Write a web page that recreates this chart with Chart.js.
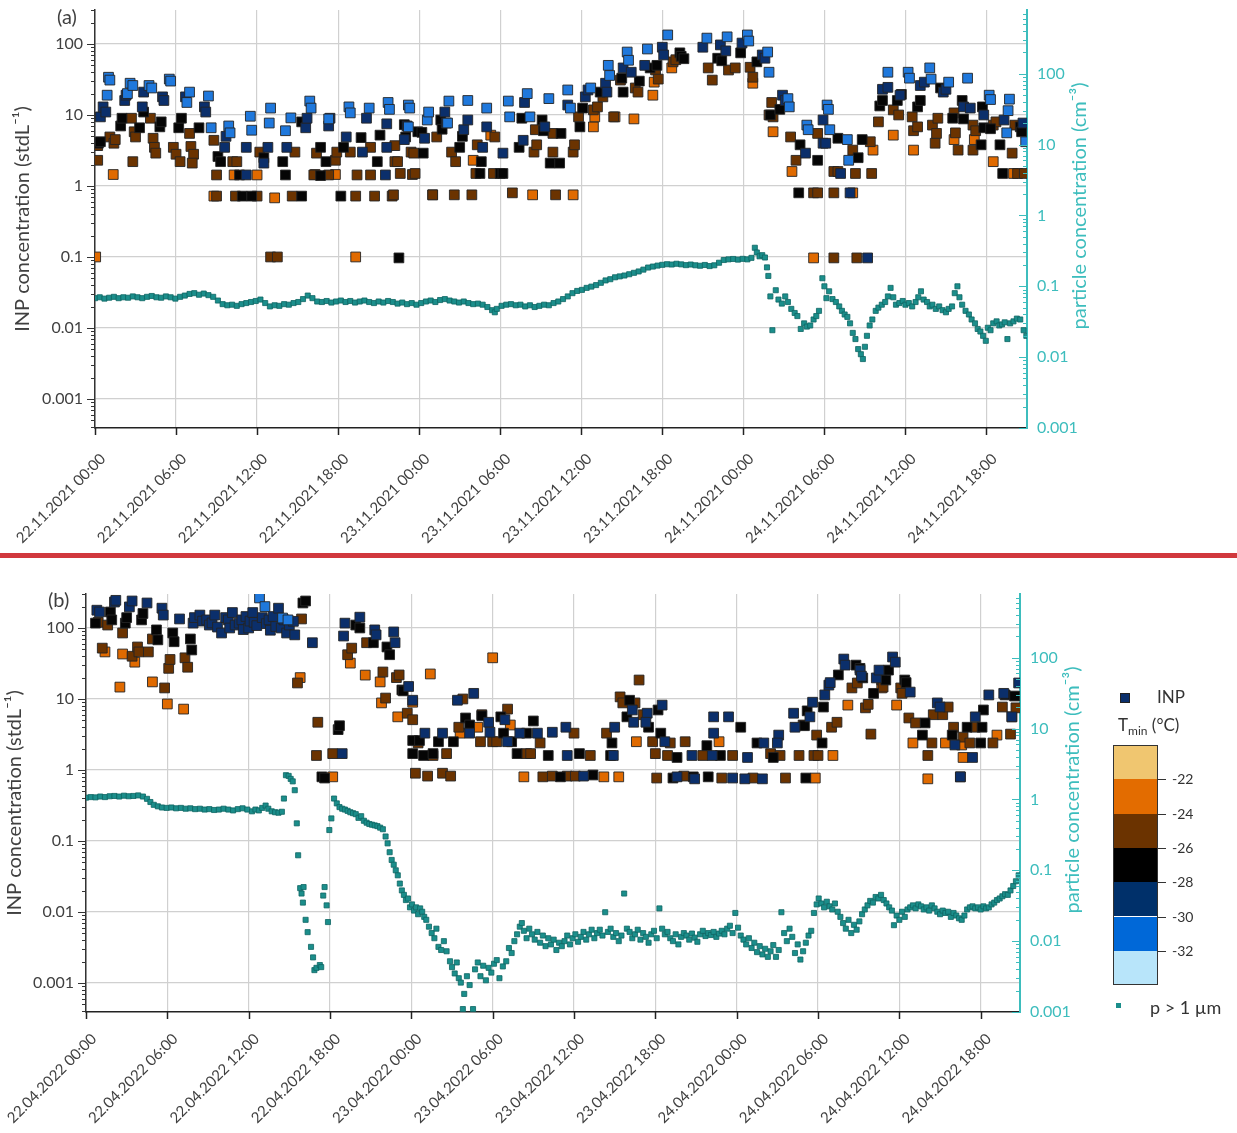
<!DOCTYPE html>
<html>
<head>
<meta charset="utf-8">
<script src="https://cdn.jsdelivr.net/npm/chart.js@4.4.1/dist/chart.umd.min.js"></script>
<style>
  body { margin: 0; background: #fff; width: 1237px; height: 1133px; position: relative; overflow: hidden; font-family: Lato, "Open Sans", sans-serif; }
  canvas { position: absolute; left: 0; }
  #chartA { top: 0; }
  #chartB { top: 558px; }
  #sep { position: absolute; left: 0; top: 553px; width: 1237px; height: 5px; background: #d1383d; }
  .plabel { position: absolute; font-size: 20px; color: #404040; }
  .leg { position: absolute; color: #333; font-size: 17px; line-height: 1; }
  .cb { position: absolute; left: 1113px; width: 45px; }
  .cbtick { position: absolute; left: 1158px; width: 8px; height: 1px; background: #333; }
  .cblab { position: absolute; left: 1172px; font-size: 14px; color: #333; line-height: 1; }
</style>
</head>
<body>
<canvas id="chartA" width="1237" height="553"></canvas>
<div id="sep"></div>
<canvas id="chartB" width="1237" height="575"></canvas>
<div class="plabel" style="left:57px;top:4px">(a)</div>
<div class="plabel" style="left:48px;top:587px">(b)</div>

<div class="leg" style="left:1120px;top:693px;width:8px;height:8px;background:#0b2f6b;border:1px solid #222"></div>
<div class="leg" style="left:1157px;top:688px">INP</div>
<div class="leg" style="left:1118px;top:716px">T<sub style="font-size:12px">min</sub> (°C)</div>
<div id="colorbar"></div>
<div class="leg" style="left:1116px;top:1003px;width:5px;height:5px;background:#1b8e8b"></div>
<div class="leg" style="left:1150px;top:998px;font-size:18px">p &gt; 1 µm</div>

<script>
// ---- axes ----
const tickHours = [0, 6, 12, 18, 24, 30, 36, 42, 48, 54, 60, 66];
const tickLabelsA = ['22.11.2021 00:00', '22.11.2021 06:00', '22.11.2021 12:00', '22.11.2021 18:00',
  '23.11.2021 00:00', '23.11.2021 06:00', '23.11.2021 12:00', '23.11.2021 18:00',
  '24.11.2021 00:00', '24.11.2021 06:00', '24.11.2021 12:00', '24.11.2021 18:00'];
const tickLabelsB = ['22.04.2022 00:00', '22.04.2022 06:00', '22.04.2022 12:00', '22.04.2022 18:00',
  '23.04.2022 00:00', '23.04.2022 06:00', '23.04.2022 12:00', '23.04.2022 18:00',
  '24.04.2022 00:00', '24.04.2022 06:00', '24.04.2022 12:00', '24.04.2022 18:00'];
const logTicks = [0.001, 0.01, 0.1, 1, 10, 100];
const logLabels = ['0.001', '0.01', '0.1', '1', '10', '100'];

// colour bar of the legend (Tmin classes, top to bottom)
const tminColors = ['#f0c670', '#e36c00', '#6b3300', '#000000', '#00306a', '#0068d8', '#b8e5fa'];
const tminLabels = ['-22', '-24', '-26', '-28', '-30', '-32'];

// ---- panel (a) INP, [hours since 22.11.2021 00:00, stdL-1] ----
const aBlue = [[0.9,19],[1.0,34],[1.1,31],[2.4,20],[2.6,28],[2.8,26],[4.0,26],[4.2,24],[5.5,32],[5.6,30],[6.8,15],[7.0,21],[8.4,18.5],[8.6,6.6],[9.9,7],[10.0,5.6],[11.5,9.6],[11.6,6.1],[12.9,7.7],[13.0,12.5],[14.1,6],[14.5,9.1],[15.9,15.7],[16.0,12.5],[17.3,8.8],[18.8,13],[18.9,10.7],[20.3,12.5],[21.7,15],[21.8,12],[23.2,13.8],[23.3,12.5],[23.2,6.8],[24.6,8.5],[24.7,11],[26.1,7.7],[26.2,15.7],[27.6,16],[29.0,12.5],[30.6,15.7],[30.7,9.4],[32.0,20],[32.2,9.4],[33.6,17],[35.0,22.5],[35.2,12.5],[36.7,24],[38.0,50],[38.1,36],[39.4,77],[39.5,59],[40.9,85],[42.4,134],[45.3,121],[46.8,126],[48.3,134],[48.4,110],[49.8,77],[49.9,40],[51.3,17],[51.4,13],[52.7,7.2],[52.8,6.2],[54.2,13.8],[54.3,12],[54.4,6.2],[55.7,4.5],[55.8,2.3],[58.7,40],[60.2,40],[60.3,33],[61.8,46],[61.9,32],[63.2,29],[64.6,33],[66.2,19],[66.3,16.5],[67.5,5.6],[67.6,11.5],[67.7,16.7],[68.9,4.2]];
const aNavy = [[0.4,9.4],[0.6,13],[0.8,11],[2.2,16],[2.3,19],[3.5,13],[3.6,21],[5.0,18],[5.1,16],[6.7,18],[8.1,13],[8.2,11],[9.6,3.5],[9.7,5],[11.2,3.5],[11.2,1.43],[12.5,2.1],[12.8,3.5],[14.2,3.5],[15.6,6.6],[15.7,9],[17.3,7],[17.4,9],[18.6,4.9],[19.8,3],[20.1,9],[21.5,1.43],[21.6,7.5],[21.6,3.5],[22.9,4.5],[23.1,7],[24.4,4.7],[25.9,11],[26.0,7.7],[27.3,6.2],[27.6,8.5],[28.7,3.5],[29.0,6.8],[30.2,2.9],[31.7,4.4],[31.8,15],[33.3,6.8],[35.0,13.8],[36.3,18],[36.5,22.5],[37.8,28],[37.9,21],[39.1,46],[39.7,40],[40.7,50],[42.0,90],[42.1,70],[45.0,90],[46.3,97],[46.7,80],[47.9,103],[49.4,70],[49.6,63],[50.9,19],[51.1,16],[52.6,2.9],[53.9,8.5],[53.9,4],[54.1,4],[55.2,1.5],[55.9,0.8],[57.2,0.097],[58.3,23],[58.7,24.5],[59.6,19],[61.1,26],[61.4,29],[62.8,21],[63.0,23],[64.3,13],[64.8,12.5],[65.8,10],[67.3,8.5],[68.7,7.7]];
const aBlack = [[0.25,4.0],[0.4,4.2],[1.9,7],[2.0,9],[3.3,6.6],[3.6,11],[4.8,6.8],[4.9,8],[6.2,6.6],[6.4,9],[7.7,6.6],[9.1,2.6],[9.3,2.2],[10.7,1.43],[10.9,0.72],[11.6,0.72],[12.5,2.5],[13.9,2.2],[14.1,1.43],[15.3,8],[15.3,0.72],[16.7,3.5],[16.7,1.4],[17.1,2.2],[18.2,0.72],[18.4,3.5],[19.7,4.8],[20.9,2.2],[21.1,5.2],[22.5,0.097],[22.9,7.3],[23.0,4.9],[23.9,5.8],[24.2,5.7],[24.3,2.9],[25.6,8.5],[25.7,6.3],[27.0,3.5],[27.2,5],[28.5,1.5],[28.6,2.2],[30.0,1.5],[30.2,1.5],[31.4,3.5],[31.6,9],[33.1,8.5],[33.2,6],[33.7,2.1],[34.4,2.1],[34.5,5.5],[35.9,6.8],[36.1,12.5],[37.4,21],[39.0,33],[39.1,21],[40.3,30],[41.1,46],[41.6,50],[43.3,75],[43.4,67],[43.6,62],[46.1,63],[46.4,58],[47.8,75],[49.0,56],[50.0,10],[50.7,12],[52.2,3.8],[52.1,0.8],[53.5,2.3],[55.0,4.7],[56.5,2.5],[56.8,4.5],[58.1,13.4],[58.3,16],[59.4,16],[59.7,19.5],[60.9,13],[61.1,16],[62.6,24],[63.5,9],[64.2,16],[64.3,8.8],[65.6,3.8],[65.7,13],[65.8,6.6],[66.3,6.4],[67.0,3.8],[67.2,1.5],[68.5,6.8],[68.6,5.8]];
const aBrown = [[0.2,2.3],[0.2,3.7],[1.1,4.9],[1.4,4],[1.5,4.5],[2.7,9],[2.8,2.2],[2.9,5.8],[3.0,4.9],[4.1,9],[4.3,4.7],[4.4,3.5],[4.5,2.9],[5.8,3.5],[6.0,2.8],[6.3,2.2],[7.0,5.5],[7.1,3.6],[7.3,2.8],[7.2,2.1],[8.8,4.4],[9.0,1.43],[9.0,0.72],[10.2,2.2],[10.5,2.2],[10.4,0.72],[12.0,0.72],[12.2,3],[13.0,0.1],[13.5,0.1],[14.6,0.72],[14.8,3],[16.2,1.43],[16.4,2.9],[17.3,1.43],[17.8,2.3],[17.9,3],[18.9,3],[19.3,0.72],[19.4,1.43],[20.4,3.5],[20.4,1.43],[20.7,0.72],[22.0,0.72],[22.1,0.75],[22.2,2.2],[22.2,3.7],[22.4,2.2],[22.6,1.5],[23.4,3],[23.5,1.45],[23.6,2.9],[23.7,1.5],[25.0,0.75],[25.3,4.9],[26.4,3],[26.6,0.75],[26.7,2.2],[27.9,0.75],[28.2,1.5],[28.3,3.8],[29.5,1.5],[29.6,4.9],[30.9,0.8],[32.5,3],[32.6,6.2],[32.7,3.8],[33.9,3],[33.9,5.5],[34.1,0.75],[35.4,3],[35.5,3.8],[35.8,9.4],[36.9,11.8],[37.2,13],[37.6,18],[38.4,9.4],[38.9,31],[40.0,24],[40.2,21],[41.5,43],[41.7,32],[42.8,56],[43.0,60],[45.4,46],[45.7,31],[46.9,43],[47.4,46],[48.5,47],[48.7,34],[49.9,10],[50.1,15],[50.2,9.4],[51.5,4.9],[51.9,2.3],[53.2,0.8],[53.5,0.8],[53.5,5.5],[54.7,0.097],[54.7,1.6],[54.7,0.8],[55.0,1.6],[56.1,3.2],[56.3,1.5],[56.4,0.097],[57.4,4.2],[57.5,1.5],[58.0,8],[59.1,11.8],[59.5,10],[60.5,9.4],[60.6,6],[60.9,6.8],[62.0,7.2],[62.2,4],[62.3,5.5],[62.4,9],[63.6,10.7],[63.7,5.6],[63.9,3.2],[65.0,7.2],[65.0,3.2],[65.2,6],[66.5,7.2],[66.7,8],[67.9,2.9],[68.1,7.2],[68.3,1.5],[68.8,1.5]];
const aOrange = [[0.05,0.1],[1.35,1.45],[8.8,0.72],[10.3,1.43],[12.0,1.43],[13.3,0.68],[16.3,1.45],[17.8,1.45],[19.3,0.1],[25.0,0.75],[28.0,2.3],[29.3,5.2],[32.4,0.75],[35.4,0.75],[36.9,6.8],[37.0,9.4],[38.5,9.4],[39.9,8.8],[41.3,19],[41.4,29],[42.7,46],[48.7,28],[50.2,5.8],[51.6,1.6],[53.2,0.097],[56.1,0.8],[57.6,3.2],[59.1,5.2],[60.6,3.2],[63.6,4.5],[65.1,4.5],[66.5,2.2],[68.0,1.5]];
// panel (a) particles > 1 um, [hours, cm-3]
const aParticles = [[0.0,0.068],[0.35,0.070],[0.7,0.067],[1.05,0.069],[1.4,0.071],[1.75,0.068],[2.1,0.070],[2.45,0.069],[2.8,0.072],[3.15,0.070],[3.5,0.068],[3.85,0.071],[4.2,0.073],[4.55,0.070],[4.9,0.069],[5.25,0.072],[5.6,0.070],[5.95,0.067],[6.3,0.071],[6.65,0.074],[7.0,0.078],[7.35,0.080],[7.7,0.076],[8.05,0.079],[8.4,0.075],[8.75,0.071],[9.1,0.063],[9.45,0.056],[9.8,0.054],[10.15,0.055],[10.5,0.053],[10.85,0.056],[11.2,0.058],[11.55,0.060],[11.9,0.062],[12.25,0.065],[12.6,0.058],[12.95,0.052],[13.3,0.054],[13.65,0.053],[14.0,0.056],[14.35,0.055],[14.7,0.058],[15.05,0.060],[15.4,0.066],[15.75,0.074],[16.1,0.068],[16.45,0.061],[16.8,0.060],[17.15,0.062],[17.5,0.059],[17.85,0.061],[18.2,0.063],[18.55,0.060],[18.9,0.062],[19.25,0.059],[19.6,0.061],[19.95,0.063],[20.3,0.060],[20.65,0.058],[21.0,0.061],[21.35,0.059],[21.7,0.062],[22.05,0.060],[22.4,0.057],[22.75,0.059],[23.1,0.056],[23.45,0.058],[23.8,0.055],[24.15,0.058],[24.5,0.061],[24.85,0.063],[25.2,0.060],[25.55,0.064],[25.9,0.066],[26.25,0.063],[26.6,0.061],[26.95,0.059],[27.3,0.061],[27.65,0.058],[28.0,0.056],[28.35,0.057],[28.7,0.055],[29.05,0.051],[29.4,0.046],[29.6,0.043],[29.75,0.048],[30.1,0.053],[30.45,0.055],[30.8,0.056],[31.15,0.054],[31.5,0.055],[31.85,0.052],[32.2,0.054],[32.55,0.051],[32.9,0.053],[33.25,0.055],[33.6,0.054],[33.95,0.058],[34.3,0.061],[34.65,0.066],[35.0,0.072],[35.35,0.080],[35.7,0.086],[36.05,0.089],[36.4,0.095],[36.75,0.099],[37.1,0.104],[37.45,0.112],[37.8,0.121],[38.15,0.126],[38.5,0.134],[38.85,0.138],[39.2,0.142],[39.55,0.148],[39.9,0.155],[40.25,0.162],[40.6,0.172],[40.95,0.184],[41.3,0.190],[41.65,0.196],[42.0,0.201],[42.35,0.205],[42.7,0.203],[43.05,0.208],[43.4,0.204],[43.75,0.199],[44.1,0.203],[44.45,0.198],[44.8,0.195],[45.15,0.200],[45.5,0.193],[45.85,0.198],[46.2,0.215],[46.55,0.235],[46.9,0.240],[47.25,0.243],[47.6,0.238],[47.95,0.244],[48.3,0.240],[48.6,0.252],[48.85,0.350],[49.0,0.300],[49.2,0.265],[49.4,0.275],[49.6,0.255],[49.75,0.185],[49.85,0.140],[50.0,0.072],[50.15,0.024],[50.4,0.088],[50.6,0.065],[50.85,0.057],[51.1,0.072],[51.3,0.060],[51.55,0.048],[51.8,0.042],[52.0,0.038],[52.25,0.025],[52.5,0.030],[52.7,0.027],[52.95,0.028],[53.2,0.034],[53.4,0.038],[53.6,0.045],[53.85,0.130],[54.0,0.100],[54.15,0.068],[54.35,0.085],[54.6,0.066],[54.85,0.060],[55.1,0.052],[55.3,0.045],[55.5,0.040],[55.7,0.037],[55.9,0.030],[56.1,0.022],[56.3,0.018],[56.5,0.013],[56.7,0.011],[56.85,0.0094],[57.0,0.014],[57.15,0.020],[57.35,0.028],[57.55,0.034],[57.8,0.045],[58.0,0.050],[58.25,0.055],[58.5,0.060],[58.7,0.072],[58.9,0.095],[59.1,0.070],[59.3,0.055],[59.55,0.058],[59.8,0.062],[60.0,0.055],[60.25,0.058],[60.5,0.052],[60.75,0.060],[60.95,0.070],[61.15,0.085],[61.35,0.065],[61.6,0.060],[61.8,0.052],[62.0,0.055],[62.25,0.048],[62.5,0.052],[62.75,0.046],[63.0,0.043],[63.2,0.048],[63.45,0.052],[63.65,0.080],[63.85,0.100],[64.0,0.070],[64.2,0.055],[64.45,0.045],[64.7,0.040],[64.9,0.034],[65.15,0.030],[65.35,0.025],[65.55,0.023],[65.75,0.020],[65.95,0.017],[66.1,0.026],[66.3,0.024],[66.5,0.030],[66.75,0.032],[66.95,0.028],[67.15,0.029],[67.35,0.031],[67.55,0.018],[67.75,0.030],[68.0,0.032],[68.25,0.035],[68.5,0.034],[68.75,0.024],[68.95,0.020]];

// ---- panel (b) INP, [hours since 22.04.2022 00:00, stdL-1] ----
const bBlue = [[12.8,265],[13.2,200],[14.5,138],[14.9,130]];
const bNavy = [[0.8,178],[1.0,168],[2.1,232],[2.2,245],[3.2,198],[3.4,240],[4.5,225],[5.6,190],[5.7,152],[6.9,134],[7.9,117],[8.0,140],[8.4,152],[8.6,125],[8.9,130],[9.1,110],[9.3,118],[9.5,152],[9.7,103],[10.0,85],[10.3,140],[10.5,130],[10.6,100],[10.8,165],[11.0,110],[11.3,117],[11.5,130],[11.6,95],[11.8,145],[12.0,100],[12.1,125],[12.3,165],[12.4,120],[12.6,108],[13.0,140],[13.3,115],[13.5,130],[13.6,93],[13.8,145],[14.0,105],[14.2,190],[14.4,100],[14.6,130],[14.8,85],[15.0,110],[15.3,124],[15.4,80],[16.7,62],[19.0,77],[19.1,117],[20.2,142],[21.3,94],[21.4,80],[22.7,88],[22.8,62],[23.8,15],[24.1,9.6],[18.9,1.7],[25.0,3.3],[26.3,3.3],[27.4,9.6],[28.3,3.3],[28.6,12],[29.7,4.7],[29.8,3.4],[30.9,5.1],[31.1,2.5],[32.0,3.3],[33.3,3.3],[34.4,3.4],[35.4,4],[35.5,1.6],[36.7,0.82],[38.9,1.6],[39.0,4],[40.3,7],[40.4,4.7],[41.4,6.3],[41.3,4.7],[42.5,8.2],[42.7,2.5],[43.6,0.8],[44.7,1.6],[44.9,0.75],[46.2,1.6],[46.3,5.6],[46.3,3.3],[47.4,5.6],[47.7,0.77],[48.6,0.75],[48.8,1.5],[49.9,0.75],[50.0,2.4],[51.1,3.1],[51.0,2.4],[52.2,6.3],[52.3,4],[53.4,5.6],[53.6,9],[54.5,11.4],[54.8,15.7],[54.9,17],[55.9,36.5],[56.0,30],[57.1,25.5],[57.2,21],[58.3,19.8],[58.5,25.5],[59.5,39],[59.7,33],[60.8,12.5],[62.8,8.8],[63.0,7.7],[64.1,2.25],[64.5,0.8],[65.4,1.5],[65.6,5.6],[66.6,11.4],[67.7,12],[68.3,5.6],[68.8,16.8]];
const bBlack = [[0.7,117],[1.8,168],[1.9,130],[2.9,117],[3.0,140],[4.1,130],[4.2,160],[5.2,94],[5.3,68],[6.4,85],[6.5,64],[7.7,70],[7.8,49],[16.0,225],[16.2,240],[17.4,0.8],[17.6,0.77],[18.6,3.7],[18.7,4.2],[19.9,110],[20.2,100],[21.2,62],[22.2,54],[22.4,42],[23.3,13.4],[23.4,13],[24.1,2.6],[24.1,1.7],[24.6,2.6],[24.9,1.6],[25.6,1.7],[26.0,2.5],[27.1,2.5],[28.0,5.4],[28.3,4.3],[29.2,5.8],[30.6,5.6],[30.8,3.3],[31.4,2.5],[31.8,1.7],[32.5,3.3],[33.0,4.9],[34.1,1.6],[35.0,0.8],[36.4,1.7],[37.4,0.85],[38.7,1.6],[38.8,2.4],[39.9,5.6],[40.1,9.6],[41.5,4],[42.2,7],[42.4,3.3],[43.3,0.77],[43.6,1.5],[44.8,0.8],[45.8,2.2],[45.9,0.8],[46.8,1.6],[48.3,4],[49.5,2.4],[50.7,1.5],[53.1,0.77],[53.2,6.8],[53.0,4.2],[54.3,2.4],[54.4,7.7],[55.5,21.8],[56.8,30],[57.1,27],[57.3,19.8],[58.1,12],[59.0,18.5],[59.2,25.5],[60.4,18.5],[60.5,17],[61.7,3.1],[61.9,4.6],[63.9,3.1],[65.0,4],[66.0,2.4],[66.1,4],[66.2,7],[67.8,11.4],[68.5,11]];
const bBrown = [[0.9,120],[1.2,52],[1.6,110],[2.7,85],[3.4,40],[3.8,54],[3.9,46],[4.6,46],[4.9,70],[5.8,14.3],[6.1,27],[6.2,36],[7.3,38],[7.5,28],[15.6,16.8],[15.9,134],[17.0,1.6],[17.1,4.7],[18.2,1.7],[19.3,42],[19.6,52],[20.7,62],[21.9,24],[22.1,10.3],[22.9,20],[23.1,21.8],[23.7,6.3],[24.1,5.1],[24.3,0.9],[24.5,2.4],[25.2,0.82],[25.6,1.6],[26.3,0.9],[26.6,1.7],[26.9,0.82],[27.5,4],[27.8,10],[29.1,2.5],[29.2,6],[30.0,2.5],[30.3,2.5],[31.1,7.2],[32.5,1.7],[32.8,1.7],[33.5,2.4],[33.7,0.8],[34.4,0.82],[35.5,0.82],[36.0,3.3],[36.1,0.82],[37.2,1.6],[38.4,3.3],[39.4,10.7],[39.6,8.8],[40.5,8.8],[40.8,18.5],[41.1,6],[41.8,2.5],[42.0,1.7],[42.1,0.77],[42.9,1.6],[43.1,2.4],[44.1,0.82],[44.2,2.5],[45.5,1.6],[46.9,0.77],[47.7,1.6],[49.2,0.77],[50.5,1.7],[51.2,1.6],[51.6,0.77],[52.6,1.6],[52.9,4.3],[53.7,1.6],[53.9,3.1],[54.0,1.6],[55.0,4],[55.4,4.7],[56.5,14.3],[56.9,16.8],[57.5,7.5],[57.7,8.4],[57.9,3.2],[58.7,18.5],[58.8,14.7],[60.1,14.3],[60.2,12],[60.7,5.4],[61.2,4.6],[62.1,1.6],[62.4,2.4],[62.5,6],[63.2,6],[63.6,7.7],[64.0,4],[64.5,0.8],[64.7,2.9],[65.2,2.4],[65.6,4],[66.9,2.4],[67.6,7.7],[68.2,3.2],[68.6,7.5]];
const bOrange = [[1.4,46],[2.5,14.7],[2.7,43],[3.6,33],[4.9,17.4],[6.0,8.5],[7.2,7.2],[15.8,20],[18.2,0.8],[19.5,32],[20.6,21.7],[21.7,17.4],[21.8,8.8],[23.0,5.6],[24.1,9],[25.4,22.5],[27.6,3.3],[28.9,4.0],[30.0,38],[31.3,4.3],[32.3,0.8],[38.2,0.8],[39.3,0.8],[40.6,2.5],[46.7,2.5],[53.8,0.77],[55.1,1.6],[56.2,8.2],[58.7,14.3],[59.8,8.2],[61.0,2.4],[62.1,0.75],[63.4,2.4],[64.6,2.25],[64.7,1.5],[67.2,3.1],[68.3,5.6]];
// panel (b) particles > 1 um, [hours, cm-3]
const bParticles = [[0.0,1.06],[0.35,1.08],[0.7,1.07],[1.05,1.10],[1.4,1.08],[1.75,1.11],[2.1,1.12],[2.45,1.10],[2.8,1.13],[3.15,1.11],[3.5,1.12],[3.85,1.14],[4.2,1.10],[4.5,1.02],[4.75,0.92],[5.0,0.84],[5.3,0.80],[5.6,0.77],[5.95,0.76],[6.3,0.77],[6.65,0.75],[7.0,0.76],[7.35,0.74],[7.7,0.75],[8.05,0.73],[8.4,0.74],[8.75,0.72],[9.1,0.73],[9.45,0.71],[9.8,0.72],[10.15,0.74],[10.5,0.72],[10.85,0.70],[11.2,0.73],[11.55,0.75],[11.9,0.72],[12.25,0.68],[12.5,0.72],[12.75,0.70],[13.0,0.76],[13.25,0.82],[13.45,0.74],[13.7,0.68],[13.95,0.66],[14.2,0.65],[14.45,0.67],[14.6,1.03],[14.75,2.2],[14.95,2.15],[15.1,1.95],[15.25,1.80],[15.4,1.35],[15.55,0.46],[15.65,0.163],[15.8,0.056],[15.9,0.047],[16.0,0.035],[16.05,0.058],[16.2,0.020],[16.35,0.0134],[16.6,0.0083],[16.75,0.0059],[16.85,0.0039],[17.0,0.0042],[17.25,0.0046],[17.35,0.0043],[17.5,0.044],[17.6,0.058],[17.75,0.032],[17.85,0.0186],[17.95,0.37],[18.1,0.54],[18.3,1.03],[18.5,0.88],[18.7,0.78],[18.9,0.74],[19.1,0.72],[19.3,0.69],[19.5,0.66],[19.7,0.64],[19.9,0.62],[20.1,0.55],[20.3,0.58],[20.5,0.50],[20.7,0.47],[20.9,0.45],[21.1,0.44],[21.3,0.43],[21.5,0.42],[21.7,0.40],[21.9,0.38],[22.1,0.30],[22.25,0.24],[22.4,0.18],[22.55,0.14],[22.7,0.12],[22.85,0.10],[23.0,0.085],[23.15,0.065],[23.3,0.052],[23.45,0.045],[23.6,0.038],[23.75,0.040],[23.9,0.030],[24.05,0.033],[24.2,0.027],[24.35,0.030],[24.5,0.024],[24.65,0.029],[24.8,0.026],[24.95,0.022],[25.1,0.020],[25.3,0.016],[25.5,0.013],[25.7,0.011],[25.85,0.015],[26.0,0.0083],[26.2,0.0075],[26.4,0.010],[26.6,0.0072],[26.85,0.0052],[27.0,0.0043],[27.2,0.0035],[27.35,0.0050],[27.5,0.0030],[27.65,0.0026],[27.8,0.0011],[27.9,0.0018],[28.1,0.0032],[28.3,0.0024],[28.55,0.0011],[28.7,0.0040],[28.9,0.0050],[29.1,0.0032],[29.3,0.0045],[29.5,0.0028],[29.7,0.0042],[29.9,0.0036],[30.1,0.0048],[30.3,0.0054],[30.5,0.0030],[30.75,0.0044],[31.0,0.0052],[31.2,0.0080],[31.4,0.0068],[31.6,0.0100],[31.8,0.0125],[32.0,0.0160],[32.15,0.0180],[32.3,0.0140],[32.5,0.0110],[32.7,0.0150],[32.9,0.0125],[33.1,0.0105],[33.3,0.0135],[33.5,0.0095],[33.7,0.0120],[33.9,0.0085],[34.1,0.0110],[34.3,0.0090],[34.5,0.0105],[34.7,0.0075],[34.9,0.0095],[35.1,0.0085],[35.3,0.0100],[35.5,0.0120],[35.7,0.0090],[35.9,0.0110],[36.1,0.0125],[36.3,0.0098],[36.5,0.0115],[36.7,0.0135],[36.9,0.0105],[37.1,0.0125],[37.3,0.0145],[37.5,0.0110],[37.7,0.0130],[37.9,0.0145],[38.1,0.0120],[38.3,0.0256],[38.5,0.0135],[38.7,0.0150],[38.9,0.0115],[39.1,0.0130],[39.3,0.0100],[39.5,0.0120],[39.7,0.0470],[39.9,0.0150],[40.1,0.0135],[40.3,0.0110],[40.5,0.0125],[40.7,0.0145],[40.9,0.0105],[41.1,0.0130],[41.3,0.0115],[41.5,0.0095],[41.7,0.0125],[41.9,0.0140],[42.1,0.0110],[42.3,0.0290],[42.5,0.0150],[42.7,0.0125],[42.9,0.0135],[43.1,0.0110],[43.3,0.0100],[43.5,0.0125],[43.7,0.0090],[43.9,0.0115],[44.1,0.0130],[44.3,0.0120],[44.5,0.0105],[44.7,0.0128],[44.9,0.0112],[45.1,0.0098],[45.3,0.0125],[45.5,0.0140],[45.7,0.0118],[45.9,0.0130],[46.1,0.0122],[46.3,0.0135],[46.5,0.0115],[46.7,0.0128],[46.9,0.0140],[47.1,0.0125],[47.3,0.0150],[47.5,0.0165],[47.7,0.0130],[47.9,0.0250],[48.1,0.0155],[48.3,0.0120],[48.5,0.0105],[48.7,0.0090],[48.9,0.0110],[49.1,0.0080],[49.3,0.0095],[49.5,0.0070],[49.7,0.0085],[49.9,0.0065],[50.1,0.0078],[50.3,0.0060],[50.5,0.0072],[50.7,0.0088],[50.9,0.0060],[51.1,0.0075],[51.3,0.0256],[51.5,0.0130],[51.7,0.0100],[51.9,0.0150],[52.1,0.0115],[52.3,0.0068],[52.5,0.0090],[52.7,0.0055],[52.9,0.0072],[53.1,0.0095],[53.3,0.0120],[53.5,0.0140],[53.7,0.0250],[53.9,0.0330],[54.05,0.0400],[54.25,0.0340],[54.45,0.0300],[54.65,0.0360],[54.85,0.0310],[55.05,0.0280],[55.25,0.0340],[55.45,0.0260],[55.65,0.0220],[55.85,0.0180],[56.05,0.0150],[56.25,0.0200],[56.45,0.0130],[56.65,0.0170],[56.85,0.0145],[57.05,0.0190],[57.25,0.0240],[57.45,0.0280],[57.65,0.0320],[57.85,0.0370],[58.05,0.0350],[58.25,0.0420],[58.45,0.0400],[58.65,0.0450],[58.85,0.0380],[59.05,0.0340],[59.25,0.0300],[59.45,0.0270],[59.6,0.0168],[59.8,0.0230],[60.0,0.0200],[60.2,0.0260],[60.4,0.0220],[60.6,0.0280],[60.8,0.0300],[61.0,0.0320],[61.2,0.0290],[61.4,0.0330],[61.6,0.0310],[61.8,0.0280],[62.0,0.0300],[62.2,0.0270],[62.4,0.0320],[62.6,0.0290],[62.8,0.0260],[63.0,0.0240],[63.2,0.0270],[63.4,0.0250],[63.6,0.0260],[63.8,0.0220],[64.0,0.0250],[64.2,0.0230],[64.4,0.0210],[64.6,0.0200],[64.8,0.0230],[65.0,0.0280],[65.2,0.0300],[65.4,0.0310],[65.6,0.0290],[65.8,0.0300],[66.0,0.0280],[66.2,0.0310],[66.4,0.0290],[66.6,0.0300],[66.8,0.0330],[67.0,0.0350],[67.2,0.0380],[67.4,0.0400],[67.6,0.0430],[67.8,0.0460],[68.0,0.0450],[68.2,0.0520],[68.4,0.0600],[68.6,0.0700],[68.8,0.0850]];

const TEAL_AXIS = '#3dbdbd';
const GREY_TEXT = '#404040';

// log-axis minor ticks, x tick marks and the right-hand title
const axisDecor = {
  id: 'axisDecor',
  afterDraw(chart, args, opts) {
    const ctx = chart.ctx;
    const area = chart.chartArea;
    const y = chart.scales.y, y2 = chart.scales.y2, x = chart.scales.x;
    ctx.save();
    ctx.lineWidth = 1;
    for (let e = -4; e <= 3; e++) {
      for (let m = 1; m <= 9; m++) {
        const v = m * Math.pow(10, e);
        const len = m === 1 ? 8 : 4;
        if (v >= y.min && v <= y.max) {
          const py = Math.round(y.getPixelForValue(v)) + 0.5;
          ctx.strokeStyle = '#333';
          ctx.beginPath(); ctx.moveTo(area.left - len, py); ctx.lineTo(area.left, py); ctx.stroke();
        }
        if (v >= y2.min && v <= y2.max) {
          const py = Math.round(y2.getPixelForValue(v)) + 0.5;
          ctx.strokeStyle = TEAL_AXIS;
          ctx.beginPath(); ctx.moveTo(area.right - len, py); ctx.lineTo(area.right, py); ctx.stroke();
        }
      }
    }
    ctx.strokeStyle = '#222';
    ctx.lineWidth = 1.5;
    tickHours.forEach(h => {
      const px = Math.round(x.getPixelForValue(h)) + 0.5;
      ctx.beginPath(); ctx.moveTo(px, area.bottom); ctx.lineTo(px, area.bottom + 7); ctx.stroke();
    });
    // right axis title reads bottom to top
    ctx.translate(opts.titleX, opts.titleY);
    ctx.rotate(-Math.PI / 2);
    ctx.fillStyle = TEAL_AXIS;
    ctx.font = '20px Lato';
    ctx.textAlign = 'center';
    ctx.textBaseline = 'middle';
    ctx.fillText('particle concentration (cm⁻³)', 0, 0);
    ctx.restore();
  }
};

function inpSet(data, color) {
  return {
    data: data.map(p => ({ x: p[0], y: p[1] })),
    yAxisID: 'y',
    pointStyle: 'rect',
    pointRadius: 6.9,
    backgroundColor: color,
    borderColor: 'rgba(35,35,35,0.9)',
    borderWidth: 1
  };
}

function particleSet(data) {
  return {
    data: data.map(p => ({ x: p[0], y: p[1] })),
    yAxisID: 'y2',
    pointStyle: 'rect',
    pointRadius: 3.6,
    backgroundColor: '#1b8e8b',
    borderColor: '#0e6663',
    borderWidth: 0.8
  };
}

// no extra edge padding from the scales, the layout padding decides the plot box
function noPad(s) {
  s.paddingTop = 0; s.paddingBottom = 0; s.paddingLeft = 0; s.paddingRight = 0;
}

function makeChart(canvasId, sets, labels, cfg) {
  const ctx = document.getElementById(canvasId).getContext('2d');
  return new Chart(ctx, {
    type: 'scatter',
    data: {
      datasets: [
        inpSet(sets.blue, '#1f78dc'),
        inpSet(sets.navy, '#0b2f6b'),
        inpSet(sets.black, '#050505'),
        inpSet(sets.brown, '#6b3300'),
        inpSet(sets.orange, '#e06a00'),
        particleSet(sets.particles)
      ]
    },
    options: {
      responsive: false,
      animation: false,
      events: [],
      layout: { padding: { top: cfg.top, left: 0, right: 0, bottom: 0 } },
      scales: {
        x: {
          type: 'linear',
          position: 'bottom',
          min: 0,
          max: cfg.xMax,
          afterBuildTicks: s => { s.ticks = tickHours.map(v => ({ value: v })); },
          afterFit: s => { s.height = cfg.xHeight; noPad(s); },
          ticks: {
            autoSkip: false,
            minRotation: 45,
            maxRotation: 45,
            padding: cfg.labelPad,
            labelOffset: 8,
            color: GREY_TEXT,
            font: { family: 'Lato', size: 15 },
            callback: v => labels[tickHours.indexOf(v)] || ''
          },
          grid: { color: '#d0d0d0', lineWidth: 1.2, drawTicks: false },
          border: { display: true, color: '#222', width: 1.5 }
        },
        y: {
          type: 'logarithmic',
          position: 'left',
          min: 0.00039,
          max: 301,
          bounds: 'data',
          afterBuildTicks: s => { s.ticks = logTicks.map(v => ({ value: v })); },
          afterFit: s => { s.width = cfg.leftWidth; noPad(s); },
          ticks: {
            autoSkip: false,
            padding: 12,
            color: GREY_TEXT,
            font: { family: 'Lato', size: 16 },
            callback: v => logLabels[logTicks.indexOf(v)] || ''
          },
          title: {
            display: true,
            text: 'INP concentration (stdL⁻¹)',
            color: GREY_TEXT,
            font: { family: 'Lato', size: 20 },
            padding: { top: cfg.leftTitlePad, bottom: 0 }
          },
          grid: { color: '#d0d0d0', lineWidth: 1.2, drawTicks: false },
          border: { display: true, color: '#333', width: 1.5 }
        },
        y2: {
          type: 'logarithmic',
          position: 'right',
          min: 0.001,
          max: 794,
          bounds: 'data',
          afterBuildTicks: s => { s.ticks = logTicks.map(v => ({ value: v })); },
          afterFit: s => { s.width = cfg.rightWidth; noPad(s); },
          ticks: {
            autoSkip: false,
            padding: 10,
            color: TEAL_AXIS,
            font: { family: 'Lato', size: 16 },
            callback: v => logLabels[logTicks.indexOf(v)] || ''
          },
          grid: { drawOnChartArea: false, drawTicks: false },
          border: { display: true, color: TEAL_AXIS, width: 2 }
        }
      },
      plugins: {
        legend: { display: false },
        tooltip: { enabled: false },
        axisDecor: { titleX: cfg.titleX, titleY: cfg.titleY }
      }
    },
    plugins: [axisDecor]
  });
}

makeChart('chartA',
  { blue: aBlue, navy: aNavy, black: aBlack, brown: aBrown, orange: aOrange, particles: aParticles },
  tickLabelsA,
  { top: 10, xMax: 69, xHeight: 125, leftWidth: 95, rightWidth: 210, leftTitlePad: 11, labelPad: 22, titleX: 1080, titleY: 206 });

makeChart('chartB',
  { blue: bBlue, navy: bNavy, black: bBlack, brown: bBrown, orange: bOrange, particles: bParticles },
  tickLabelsB,
  { top: 36, xMax: 68.9, xHeight: 121, leftWidth: 86, rightWidth: 217, leftTitlePad: 3, labelPad: 18, titleX: 1073, titleY: 232 });

// legend colour bar
const bar = document.getElementById('colorbar');
tminColors.forEach((c, i) => {
  const d = document.createElement('div');
  d.className = 'cb';
  d.style.top = (745 + i * 34.3) + 'px';
  d.style.height = '34.3px';
  d.style.background = c;
  bar.appendChild(d);
});
const frame = document.createElement('div');
frame.className = 'cb';
frame.style.cssText = 'top:745px;height:240px;border:1px solid #333;box-sizing:border-box;';
bar.appendChild(frame);
tminLabels.forEach((t, i) => {
  const yy = 745 + (i + 1) * 34.3;
  const tk = document.createElement('div');
  tk.className = 'cbtick';
  tk.style.top = yy + 'px';
  bar.appendChild(tk);
  const lb = document.createElement('div');
  lb.className = 'cblab';
  lb.style.top = (yy - 7) + 'px';
  lb.textContent = t;
  bar.appendChild(lb);
});
</script>
</body>
</html>
